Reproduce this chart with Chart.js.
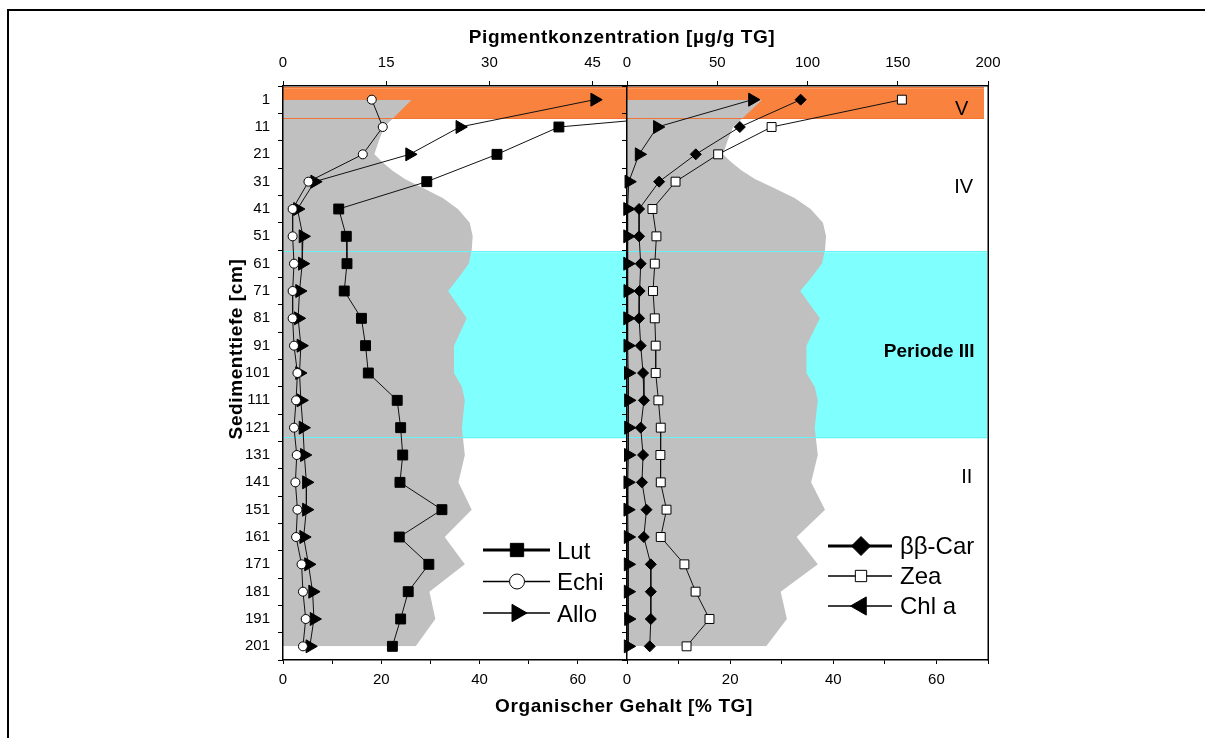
<!DOCTYPE html>
<html>
<head>
<meta charset="utf-8">
<title>Pigmentkonzentration und organischer Gehalt</title>
<script src="https://cdn.jsdelivr.net/npm/chart.js"></script>
<style>
  html, body { margin: 0; padding: 0; background: #fff; }
  #wrap { position: relative; width: 1212px; height: 738px; overflow: hidden; background: #fff; }
  #wrap canvas { position: absolute; left: 0; top: 0; }
  .frame-top { position: absolute; left: 7px; top: 9px; width: 1198px; height: 2px; background: #000; }
  .frame-left { position: absolute; left: 7px; top: 9px; width: 2px; height: 729px; background: #000; }
</style>
</head>
<body>
<div id="wrap">
  <div class="frame-top"></div>
  <div class="frame-left"></div>
  <canvas id="pigLeft" width="1212" height="738"></canvas>
  <canvas id="pigRight" width="1212" height="738"></canvas>
</div>
<script>
// Sediment depths [cm] of the pigment samples
const depths = [1, 11, 21, 31, 41, 51, 61, 71, 81, 91, 101, 111, 121, 131, 141, 151, 161, 171, 181, 191, 201];

// Pigment concentrations [µg/g TG]
const lut     = [85, 40.1, 31.1, 20.9, 8.1, 9.2, 9.3, 8.9, 11.4, 12.0, 12.4, 16.6, 17.1, 17.4, 17.0, 23.1, 16.9, 21.2, 18.2, 17.1, 15.9];
const echi    = [12.9, 14.5, 11.6, 3.7, 1.4, 1.4, 1.6, 1.4, 1.4, 1.6, 2.1, 1.9, 1.6, 2.0, 1.8, 2.1, 1.9, 2.7, 2.9, 3.3, 2.9];
const allo    = [45.3, 25.7, 18.4, 4.6, 2.1, 2.9, 2.8, 2.4, 2.2, 2.6, 2.4, 2.6, 2.9, 3.1, 3.4, 3.4, 3.0, 3.7, 4.3, 4.5, 3.9];
const betaCar = [96.2, 62.5, 38.1, 17.8, 6.7, 6.7, 7.6, 7.0, 6.7, 7.6, 8.9, 9.4, 7.6, 8.9, 8.3, 10.8, 9.3, 13.2, 13.2, 13.2, 12.6];
const zea     = [152.3, 80.1, 50.5, 26.9, 14.1, 16.3, 15.4, 14.4, 15.4, 15.9, 15.9, 17.4, 18.7, 18.5, 18.7, 21.9, 18.7, 31.8, 38.0, 45.7, 33.0];
const chlA    = [69.5, 16.8, 6.7, 1.0, 0.3, 0.3, 0.3, 0.4, 0.3, 0.4, 0.7, 0.8, 0.8, 0.7, 0.4, 0.4, 0.6, 0.6, 0.6, 0.8, 0.6];

// Organic content [% TG] along the core
const organicDepths  = [1, 11, 16, 21, 24, 27, 30, 33, 37, 41, 46, 51, 56, 61, 66, 71, 81, 91, 101, 106, 111, 121, 131, 141, 151, 161, 171, 181, 191, 201];
const organicContent = [26.2, 20.6, 19.5, 18.6, 20.3, 22.3, 24.8, 28.2, 32.5, 35.6, 38.0, 38.6, 38.4, 37.8, 35.8, 33.6, 37.4, 34.8, 34.8, 36.4, 37.0, 36.4, 37.0, 35.7, 38.4, 32.9, 37.0, 29.8, 31.0, 27.0];

// Axis ticks
const topTicksLeft  = [0, 15, 30, 45];
const topTicksRight = [0, 50, 100, 150, 200];
const organicTicks  = [0, 10, 20, 30, 40, 50, 60, 70];

// Periods: names and depth ranges of the shaded bands [cm]
const periodNames = ['V', 'IV', 'Periode III', 'II'];
const bandStart   = [-3.2, 56.8];
const bandEnd     = [8.0, 124.9];

const FONT = "'Liberation Sans', Arial, Helvetica, sans-serif";
const INK = '#111';

function points(values) {
  return depths.map((d, i) => ({ x: values[i], y: d }));
}

// Depth axis: tick marks between samples, labels at sample depths
function depthAxis(showLabels, width) {
  return {
    type: 'linear', position: 'left', reverse: true, min: -4, max: 206,
    afterBuildTicks: s => {
      const t = [];
      for (let v = -4; v <= 206; v += 5) t.push({ value: v });
      s.ticks = t;
    },
    ticks: {
      autoSkip: false, color: '#000', padding: 8,
      font: { family: FONT, size: 15 },
      callback: v => (showLabels && depths.includes(v)) ? String(v) : ''
    },
    grid: {
      drawOnChartArea: false, drawTicks: true, tickLength: 5, tickWidth: 1,
      color: '#000',
      tickColor: ctx => (ctx.tick && depths.includes(ctx.tick.value)) ? 'rgba(0,0,0,0)' : '#000'
    },
    border: { display: true, color: '#000', width: 1.5, z: 1 },
    afterFit: s => { s.width = width; }
  };
}

function pigmentAxis(max, tickValues) {
  return {
    type: 'linear', position: 'top', min: 0, max: max,
    afterBuildTicks: s => { s.ticks = tickValues.map(v => ({ value: v })); },
    ticks: { autoSkip: false, maxRotation: 0, color: '#000', padding: 9, font: { family: FONT, size: 15 } },
    grid: { drawOnChartArea: false, tickLength: 5, color: '#000' },
    border: { display: true, color: '#000', width: 1.5, z: 1 },
    afterFit: s => { s.height = 86; }
  };
}

function organicAxis() {
  return {
    type: 'linear', position: 'bottom', min: 0, max: 70,
    afterBuildTicks: s => { s.ticks = organicTicks.map(v => ({ value: v })); },
    ticks: {
      autoSkip: false, maxRotation: 0, color: '#000', padding: 7, font: { family: FONT, size: 15 },
      callback: v => (v % 20 === 0) ? String(v) : ''
    },
    grid: { drawOnChartArea: false, tickLength: 4, color: '#000' },
    border: { display: true, color: '#000', width: 1.5, z: 1 },
    afterFit: s => { s.height = 78; }
  };
}

function organicDataset() {
  return {
    label: 'Organischer Gehalt',
    data: organicDepths.map((d, i) => ({ x: organicContent[i], y: d })),
    xAxisID: 'xBot', yAxisID: 'y',
    fill: 'origin', backgroundColor: '#c0c0c0',
    borderColor: 'rgba(0,0,0,0)', borderWidth: 0, pointRadius: 0,
    order: 1
  };
}

function seriesDataset(label, values, marker) {
  return Object.assign({
    label: label, data: points(values), xAxisID: 'xTop', yAxisID: 'y',
    borderColor: INK, borderWidth: 1, tension: 0, fill: false,
    pointBackgroundColor: '#000', pointBorderColor: '#000', pointBorderWidth: 1,
    clip: { left: 10, top: 10, right: 0, bottom: 10 },
    order: 0
  }, marker);
}

// Period bands behind the data, with their edge lines over the organic fill
const bandColors = ['#f9823f', '#80ffff'];
const bandEdgeColors = ['#ee7436', '#66f2f6'];
const bandRightInset = [4, 1];

const bandsPlugin = {
  id: 'periodBands',
  beforeDatasetsDraw(chart, args, opts) {
    const { ctx, chartArea: a, scales: { y } } = chart;
    ctx.save();
    bandStart.forEach((s, i) => {
      const y0 = y.getPixelForValue(s), y1 = y.getPixelForValue(bandEnd[i]);
      const right = a.right - (opts.inset ? bandRightInset[i] : 0);
      ctx.fillStyle = bandColors[i];
      ctx.fillRect(a.left, y0, right - a.left, y1 - y0);
    });
    ctx.restore();
  },
  afterDatasetDraw(chart, args, opts) {
    if (args.index !== 0) return;
    const { ctx, chartArea: a, scales: { y } } = chart;
    ctx.save();
    ctx.lineWidth = 1;
    bandStart.forEach((s, i) => {
      const right = a.right - (opts.inset ? bandRightInset[i] : 0);
      ctx.strokeStyle = bandEdgeColors[i];
      [s, bandEnd[i]].forEach(v => {
        const py = Math.round(y.getPixelForValue(v)) - 0.5;
        ctx.beginPath(); ctx.moveTo(a.left, py); ctx.lineTo(right, py); ctx.stroke();
      });
    });
    ctx.restore();
  }
};

function drawMarker(ctx, m, x, y) {
  const r = m.radius;
  ctx.save();
  ctx.translate(x, y);
  ctx.rotate((m.rotation || 0) * Math.PI / 180);
  ctx.beginPath();
  if (m.style === 'rect') {
    const s = r * Math.SQRT1_2;
    ctx.rect(-s, -s, 2 * s, 2 * s);
  } else if (m.style === 'rectRot') {
    ctx.moveTo(0, -r); ctx.lineTo(r, 0); ctx.lineTo(0, r); ctx.lineTo(-r, 0); ctx.closePath();
  } else if (m.style === 'circle') {
    ctx.arc(0, 0, r, 0, Math.PI * 2);
  } else {
    for (let k = 0; k < 3; k++) {
      const ang = k * 2 * Math.PI / 3;
      const px = Math.sin(ang) * r, py = -Math.cos(ang) * r;
      if (k === 0) ctx.moveTo(px, py); else ctx.lineTo(px, py);
    }
    ctx.closePath();
  }
  ctx.fillStyle = m.fill;
  ctx.fill();
  ctx.lineWidth = 1;
  ctx.strokeStyle = '#000';
  ctx.stroke();
  ctx.restore();
}

const legendPlugin = {
  id: 'pigLegend',
  afterDraw(chart, args, opts) {
    const ctx = chart.ctx;
    ctx.save();
    opts.items.forEach((it, i) => {
      const y = opts.ys[i];
      ctx.strokeStyle = '#000';
      ctx.lineWidth = it.lineWidth;
      ctx.beginPath(); ctx.moveTo(opts.lineFrom, y); ctx.lineTo(opts.lineTo, y); ctx.stroke();
      drawMarker(ctx, it, opts.markerX, y);
      ctx.fillStyle = '#000';
      ctx.font = `24px ${FONT}`;
      ctx.textAlign = 'left';
      ctx.textBaseline = 'alphabetic';
      ctx.fillText(it.label, opts.textX, y + opts.baselineShift);
    });
    ctx.restore();
  }
};

const titlesPlugin = {
  id: 'figureTitles',
  afterDraw(chart) {
    const ctx = chart.ctx;
    ctx.save();
    ctx.fillStyle = '#000';
    ctx.font = `bold 19px ${FONT}`;
    if ('letterSpacing' in ctx) ctx.letterSpacing = '0.6px';
    ctx.textAlign = 'center';
    ctx.textBaseline = 'alphabetic';
    ctx.fillText('Pigmentkonzentration [µg/g TG]', 622, 42.5);
    ctx.fillText('Organischer Gehalt [% TG]', 624, 711.5);
    ctx.translate(241.5, 349);
    ctx.rotate(-Math.PI / 2);
    ctx.fillText('Sedimenttiefe [cm]', 0, 0);
    ctx.restore();
  }
};

const periodLabelPlugin = {
  id: 'periodLabels',
  afterDatasetsDraw(chart, args, opts) {
    const { ctx, scales: { xBot, y } } = chart;
    ctx.save();
    ctx.fillStyle = '#000';
    ctx.textAlign = 'center';
    ctx.textBaseline = 'alphabetic';
    periodNames.forEach((name, i) => {
      const p = opts.positions[i];
      ctx.font = `${p.bold ? 'bold ' : ''}${p.size}px ${FONT}`;
      ctx.fillText(name, xBot.getPixelForValue(p.x), y.getPixelForValue(p.y));
    });
    ctx.restore();
  }
};

const rightEdgePlugin = {
  id: 'rightEdge',
  afterDraw(chart) {
    const { ctx, chartArea: a } = chart;
    ctx.save();
    ctx.strokeStyle = '#000';
    ctx.lineWidth = 1.5;
    ctx.beginPath(); ctx.moveTo(a.right + 0.25, a.top - 0.75); ctx.lineTo(a.right + 0.25, a.bottom + 0.75); ctx.stroke();
    ctx.restore();
  }
};

const baseOptions = (padding) => ({
  indexAxis: 'y',
  responsive: false,
  animation: false,
  events: [],
  layout: { padding: padding, autoPadding: false }
});

// Left panel: Lut, Echi, Allo
new Chart(document.getElementById('pigLeft'), {
  type: 'line',
  data: {
    datasets: [
      organicDataset(),
      seriesDataset('Lut', lut, { pointStyle: 'rect', pointRadius: 7 }),
      seriesDataset('Echi', echi, { pointStyle: 'circle', pointRadius: 4.5, pointBackgroundColor: '#fff' }),
      seriesDataset('Allo', allo, { pointStyle: 'triangle', pointRotation: 90, pointRadius: 7.5 })
    ]
  },
  options: Object.assign(baseOptions({ left: 0, right: 585, top: 0, bottom: 0 }), {
    plugins: {
      legend: { display: false }, tooltip: { enabled: false },
      periodBands: { inset: false },
      pigLegend: {
        lineFrom: 483, lineTo: 550, markerX: 517, textX: 557, baselineShift: 8.5,
        ys: [550, 581.5, 613],
        items: [
          { label: 'Lut',  style: 'rect', radius: 9.4, fill: '#000', lineWidth: 3 },
          { label: 'Echi', style: 'circle', radius: 7.5, fill: '#fff', lineWidth: 1.5 },
          { label: 'Allo', style: 'triangle', rotation: 90, radius: 10, fill: '#000', lineWidth: 1.5 }
        ]
      }
    },
    scales: {
      y: depthAxis(true, 283),
      xTop: pigmentAxis(50, topTicksLeft),
      xBot: organicAxis()
    }
  }),
  plugins: [bandsPlugin, legendPlugin, titlesPlugin]
});

// Right panel: ββ-Car, Zea, Chl a
new Chart(document.getElementById('pigRight'), {
  type: 'line',
  data: {
    datasets: [
      organicDataset(),
      seriesDataset('ββ-Car', betaCar, { pointStyle: 'rectRot', pointRadius: 5.5 }),
      seriesDataset('Zea', zea, { pointStyle: 'rect', pointRadius: 6.3, pointBackgroundColor: '#fff' }),
      seriesDataset('Chl a', chlA, { pointStyle: 'triangle', pointRotation: 90, pointRadius: 7.5 })
    ]
  },
  options: Object.assign(baseOptions({ left: 560, right: 224, top: 0, bottom: 0 }), {
    plugins: {
      legend: { display: false }, tooltip: { enabled: false },
      periodBands: { inset: true },
      periodLabels: {
        positions: [
          { x: 64.9, y: 6.6,   size: 20 },
          { x: 65.3, y: 35.3,  size: 20 },
          { x: 58.6, y: 95.0,  size: 19, bold: true },
          { x: 65.9, y: 141.4, size: 20 }
        ]
      },
      pigLegend: {
        lineFrom: 828, lineTo: 892, markerX: 861, textX: 900, baselineShift: 7.5,
        ys: [546, 576, 606],
        items: [
          { label: 'ββ-Car', style: 'rectRot', radius: 9.5, fill: '#000', lineWidth: 3 },
          { label: 'Zea',    style: 'rect', radius: 8, fill: '#fff', lineWidth: 1.5 },
          { label: 'Chl a',  style: 'triangle', rotation: 270, radius: 10.5, fill: '#000', lineWidth: 1.5 }
        ]
      }
    },
    scales: {
      y: depthAxis(false, 67),
      xTop: pigmentAxis(200, topTicksRight),
      xBot: organicAxis()
    }
  }),
  plugins: [bandsPlugin, periodLabelPlugin, legendPlugin, rightEdgePlugin]
});
</script>
</body>
</html>
